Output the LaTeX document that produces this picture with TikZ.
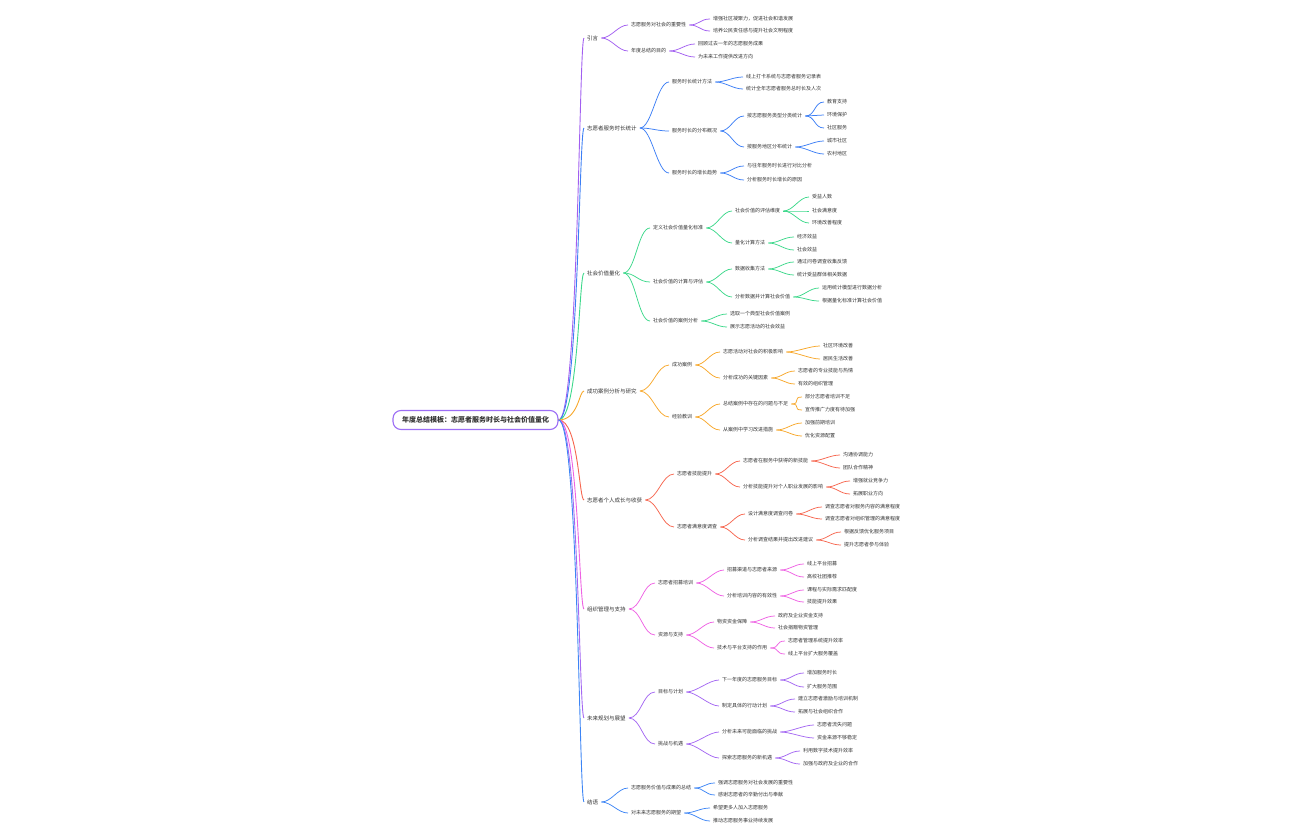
\documentclass[tikz,border=0pt]{standalone}
\usepackage{fontspec}
\setmainfont{Noto Sans CJK SC}
\usetikzlibrary{positioning}
\definecolor{txt}{HTML}{333333}
\definecolor{rootline}{HTML}{9C6EF5}
\definecolor{cintro}{HTML}{A25FF0}
\definecolor{chours}{HTML}{3D7FF5}
\definecolor{cvalue}{HTML}{3DD88B}
\definecolor{ccase}{HTML}{F7A72A}
\definecolor{cgrow}{HTML}{F6664F}
\definecolor{corg}{HTML}{EE62E3}
\definecolor{cplan}{HTML}{A468F2}
\definecolor{cend}{HTML}{3D85F5}
\tikzset{
  rootbox/.style={
    draw=rootline, line width=1.1pt,
    rounded corners=8pt,
    fill=white,
    minimum width=165pt,
    minimum height=19pt,
    text=txt,
    font=\fontsize{7}{8}\selectfont\bfseries},
  topic/.style={anchor=west, inner xsep=3pt, inner ysep=1pt,
    text=txt, font=\fontsize{5.5}{6}\selectfont},
  sub/.style={anchor=west, inner xsep=3pt, inner ysep=1pt,
    text=txt, font=\fontsize{5}{6}\selectfont},
  rootlink/.style={line width=.9pt,
    to path={.. controls +(20,0) and +(-5,0) .. (\tikztotarget)}},
  link/.style={line width=.75pt,
    to path={.. controls +(#1,0) and +(-#1,0) .. (\tikztotarget)}},
  link/.default=10,
}
\begin{document}
\begin{tikzpicture}[x=1pt, y=-1pt]
  \useasboundingbox (0,0) rectangle (1296,840);

  \node[rootbox] (root) at (475.5,420) {年度总结模板：志愿者服务时长与社会价值量化};

  % level 1
  \node[topic] (intro) at (584,38)  {引言};
  \node[topic] (hours) at (584,128) {志愿者服务时长统计};
  \node[topic] (value) at (584,273) {社会价值量化};
  \node[topic] (case)  at (584,391) {成功案例分析与研究};
  \node[topic] (grow)  at (584,500) {志愿者个人成长与收获};
  \node[topic] (org)   at (584,609) {组织管理与支持};
  \node[topic] (plan)  at (584,718) {未来规划与展望};
  \node[topic] (end)   at (584,802) {结语};

  % intro
  \node[sub] (intro-imp)   at (628,25) {志愿服务对社会的重要性};
  \node[sub] (intro-imp-a) at (710,19) {增强社区凝聚力，促进社会和谐发展};
  \node[sub] (intro-imp-b) at (710,31) {培养公民责任感与提升社会文明程度};
  \node[sub] (intro-aim)   at (628,51) {年度总结的目的};
  \node[sub] (intro-aim-a) at (695,44) {回顾过去一年的志愿服务成果};
  \node[sub] (intro-aim-b) at (695,57) {为未来工作提供改进方向};

  % hours
  \node[sub] (hours-meth)   at (669,82)  {服务时长统计方法};
  \node[sub] (hours-meth-a) at (743,77)  {线上打卡系统与志愿者服务记录表};
  \node[sub] (hours-meth-b) at (743,89)  {统计全年志愿者服务总时长及人次};
  \node[sub] (hours-dist)   at (669,131) {服务时长的分布概况};
  \node[sub] (hours-type)   at (744,116) {按志愿服务类型分类统计};
  \node[sub] (hours-type-a) at (824,102) {教育支持};
  \node[sub] (hours-type-b) at (824,115) {环境保护};
  \node[sub] (hours-type-c) at (824,128) {社区服务};
  \node[sub] (hours-area)   at (744,147) {按服务地区分布统计};
  \node[sub] (hours-area-a) at (824,141) {城市社区};
  \node[sub] (hours-area-b) at (824,154) {农村地区};
  \node[sub] (hours-trend)   at (669,173) {服务时长的增长趋势};
  \node[sub] (hours-trend-a) at (744,166) {与往年服务时长进行对比分析};
  \node[sub] (hours-trend-b) at (744,180) {分析服务时长增长的原因};

  % value
  \node[sub] (value-std)    at (650,228) {定义社会价值量化标准};
  \node[sub] (value-dim)    at (732,211) {社会价值的评估维度};
  \node[sub] (value-dim-a)  at (809,197) {受益人数};
  \node[sub] (value-dim-b)  at (809,211) {社会满意度};
  \node[sub] (value-dim-c)  at (809,223) {环境改善程度};
  \node[sub] (value-idx)    at (732,243) {量化计算方法};
  \node[sub] (value-idx-a)  at (794,237) {经济效益};
  \node[sub] (value-idx-b)  at (794,250) {社会效益};
  \node[sub] (value-calc)   at (650,282) {社会价值的计算与评估};
  \node[sub] (value-data)   at (732,269) {数据收集方法};
  \node[sub] (value-data-a) at (794,262) {通过问卷调查收集反馈};
  \node[sub] (value-data-b) at (794,275) {统计受益群体相关数据};
  \node[sub] (value-ana)    at (732,297) {分析数据并计算社会价值};
  \node[sub] (value-ana-a)  at (819,288) {运用统计模型进行数据分析};
  \node[sub] (value-ana-b)  at (819,301) {根据量化标准计算社会价值};
  \node[sub] (value-case)   at (650,321) {社会价值的案例分析};
  \node[sub] (value-case-a) at (727,314) {选取一个典型社会价值案例};
  \node[sub] (value-case-b) at (727,327) {展示志愿活动的社会效益};

  % case
  \node[sub] (case-good)       at (669,365) {成功案例};
  \node[sub] (case-good-eff)   at (720,352) {志愿活动对社会的积极影响};
  \node[sub] (case-good-eff-a) at (820,346) {社区环境改善};
  \node[sub] (case-good-eff-b) at (820,359) {居民生活改善};
  \node[sub] (case-good-key)   at (720,378) {分析成功的关键因素};
  \node[sub] (case-good-key-a) at (795,371) {志愿者的专业技能与热情};
  \node[sub] (case-good-key-b) at (795,384) {有效的组织管理};
  \node[sub] (case-less)        at (669,417) {经验教训};
  \node[sub] (case-less-prob)   at (720,404) {总结案例中存在的问题与不足};
  \node[sub] (case-less-prob-a) at (802,397) {部分志愿者培训不足};
  \node[sub] (case-less-prob-b) at (802,410) {宣传推广力度有待加强};
  \node[sub] (case-less-fix)    at (720,430) {从案例中学习改进措施};
  \node[sub] (case-less-fix-a)  at (802,423) {加强前期培训};
  \node[sub] (case-less-fix-b)  at (802,436) {优化资源配置};

  % grow
  \node[sub] (grow-skill)      at (674,474) {志愿者技能提升};
  \node[sub] (grow-skill-new)  at (740,461) {志愿者在服务中获得的新技能};
  \node[sub] (grow-skill-new-a) at (840,455) {沟通协调能力};
  \node[sub] (grow-skill-new-b) at (840,468) {团队合作精神};
  \node[sub] (grow-skill-job)  at (740,487) {分析技能提升对个人职业发展的影响};
  \node[sub] (grow-skill-job-a) at (850,481) {增强就业竞争力};
  \node[sub] (grow-skill-job-b) at (850,494) {拓展职业方向};
  \node[sub] (grow-survey)     at (674,527) {志愿者满意度调查};
  \node[sub] (grow-form)       at (745,514) {设计满意度调查问卷};
  \node[sub] (grow-form-a)     at (822,507) {调查志愿者对服务内容的满意程度};
  \node[sub] (grow-form-b)     at (822,519) {调查志愿者对组织管理的满意程度};
  \node[sub] (grow-res)        at (745,540) {分析调查结果并提出改进建议};
  \node[sub] (grow-res-a)      at (841,532) {根据反馈优化服务项目};
  \node[sub] (grow-res-b)      at (841,545) {提升志愿者参与体验};

  % org
  \node[sub] (org-recruit)   at (655,583) {志愿者招募培训};
  \node[sub] (org-channel)   at (724,570) {招募渠道与志愿者来源};
  \node[sub] (org-channel-a) at (804,564) {线上平台招募};
  \node[sub] (org-channel-b) at (804,577) {高校社团推荐};
  \node[sub] (org-train)     at (724,596) {分析培训内容的有效性};
  \node[sub] (org-train-a)   at (804,590) {课程与实际需求匹配度};
  \node[sub] (org-train-b)   at (804,602) {技能提升效果};
  \node[sub] (org-res)       at (655,635) {资源与支持};
  \node[sub] (org-fund)      at (714,622) {物资资金保障};
  \node[sub] (org-fund-a)    at (775,616) {政府及企业资金支持};
  \node[sub] (org-fund-b)    at (775,628) {社会捐赠物资管理};
  \node[sub] (org-tech)      at (714,648) {技术与平台支持的作用};
  \node[sub] (org-tech-a)    at (785,641) {志愿者管理系统提升效率};
  \node[sub] (org-tech-b)    at (785,654) {线上平台扩大服务覆盖};

  % plan
  \node[sub] (plan-goal)     at (655,692) {目标与计划};
  \node[sub] (plan-next)     at (719,680) {下一年度的志愿服务目标};
  \node[sub] (plan-next-a)   at (804,673) {增加服务时长};
  \node[sub] (plan-next-b)   at (804,687) {扩大服务范围};
  \node[sub] (plan-act)      at (719,706) {制定具体的行动计划};
  \node[sub] (plan-act-a)    at (795,699) {建立志愿者激励与培训机制};
  \node[sub] (plan-act-b)    at (795,712) {拓展与社会组织合作};
  \node[sub] (plan-risk)     at (655,744) {挑战与机遇};
  \node[sub] (plan-chal)     at (719,732) {分析未来可能面临的挑战};
  \node[sub] (plan-chal-a)   at (814,725) {志愿者流失问题};
  \node[sub] (plan-chal-b)   at (814,738) {资金来源不够稳定};
  \node[sub] (plan-opp)      at (719,758) {探索志愿服务的新机遇};
  \node[sub] (plan-opp-a)    at (800,751) {利用数字技术提升效率};
  \node[sub] (plan-opp-b)    at (800,764) {加强与政府及企业的合作};

  % end
  \node[sub] (end-sum)    at (628,788) {志愿服务价值与成果的总结};
  \node[sub] (end-sum-a)  at (715,783) {强调志愿服务对社会发展的重要性};
  \node[sub] (end-sum-b)  at (715,795) {感谢志愿者的辛勤付出与奉献};
  \node[sub] (end-hope)   at (628,813) {对未来志愿服务的期望};
  \node[sub] (end-hope-a) at (710,808) {希望更多人加入志愿服务};
  \node[sub] (end-hope-b) at (710,821) {推动志愿服务事业持续发展};

  % root links
  \draw[cintro, rootlink] (root.east) to (intro.west);
  \draw[chours, rootlink] (root.east) to (hours.west);
  \draw[cvalue, rootlink] (root.east) to (value.west);
  \draw[ccase,  rootlink] (root.east) to (case.west);
  \draw[cgrow,  rootlink] (root.east) to (grow.west);
  \draw[corg,   rootlink] (root.east) to (org.west);
  \draw[cplan,  rootlink] (root.east) to (plan.west);
  \draw[cend,   rootlink] (root.east) to (end.west);

  % intro links
  \draw[cintro, link] (intro.east) to (intro-imp.west);
  \draw[cintro, link] (intro.east) to (intro-aim.west);
  \draw[cintro, link] (intro-imp.east) to (intro-imp-a.west);
  \draw[cintro, link] (intro-imp.east) to (intro-imp-b.west);
  \draw[cintro, link] (intro-aim.east) to (intro-aim-a.west);
  \draw[cintro, link] (intro-aim.east) to (intro-aim-b.west);

  % hours links
  \draw[chours, link=12] (hours.east) to (hours-meth.west);
  \draw[chours, link=12] (hours.east) to (hours-dist.west);
  \draw[chours, link=12] (hours.east) to (hours-trend.west);
  \draw[chours, link] (hours-meth.east) to (hours-meth-a.west);
  \draw[chours, link] (hours-meth.east) to (hours-meth-b.west);
  \draw[chours, link] (hours-dist.east) to (hours-type.west);
  \draw[chours, link] (hours-dist.east) to (hours-area.west);
  \draw[chours, link] (hours-type.east) to (hours-type-a.west);
  \draw[chours, link] (hours-type.east) to (hours-type-b.west);
  \draw[chours, link] (hours-type.east) to (hours-type-c.west);
  \draw[chours, link] (hours-area.east) to (hours-area-a.west);
  \draw[chours, link] (hours-area.east) to (hours-area-b.west);
  \draw[chours, link] (hours-trend.east) to (hours-trend-a.west);
  \draw[chours, link] (hours-trend.east) to (hours-trend-b.west);

  % value links
  \draw[cvalue, link=12] (value.east) to (value-std.west);
  \draw[cvalue, link=12] (value.east) to (value-calc.west);
  \draw[cvalue, link=12] (value.east) to (value-case.west);
  \draw[cvalue, link] (value-std.east) to (value-dim.west);
  \draw[cvalue, link] (value-std.east) to (value-idx.west);
  \draw[cvalue, link] (value-dim.east) to (value-dim-a.west);
  \draw[cvalue, link] (value-dim.east) to (value-dim-b.west);
  \draw[cvalue, link] (value-dim.east) to (value-dim-c.west);
  \draw[cvalue, link] (value-idx.east) to (value-idx-a.west);
  \draw[cvalue, link] (value-idx.east) to (value-idx-b.west);
  \draw[cvalue, link] (value-calc.east) to (value-data.west);
  \draw[cvalue, link] (value-calc.east) to (value-ana.west);
  \draw[cvalue, link] (value-data.east) to (value-data-a.west);
  \draw[cvalue, link] (value-data.east) to (value-data-b.west);
  \draw[cvalue, link] (value-ana.east) to (value-ana-a.west);
  \draw[cvalue, link] (value-ana.east) to (value-ana-b.west);
  \draw[cvalue, link] (value-case.east) to (value-case-a.west);
  \draw[cvalue, link] (value-case.east) to (value-case-b.west);

  % case links
  \draw[ccase, link=12] (case.east) to (case-good.west);
  \draw[ccase, link=12] (case.east) to (case-less.west);
  \draw[ccase, link] (case-good.east) to (case-good-eff.west);
  \draw[ccase, link] (case-good.east) to (case-good-key.west);
  \draw[ccase, link] (case-good-eff.east) to (case-good-eff-a.west);
  \draw[ccase, link] (case-good-eff.east) to (case-good-eff-b.west);
  \draw[ccase, link] (case-good-key.east) to (case-good-key-a.west);
  \draw[ccase, link] (case-good-key.east) to (case-good-key-b.west);
  \draw[ccase, link] (case-less.east) to (case-less-prob.west);
  \draw[ccase, link] (case-less.east) to (case-less-fix.west);
  \draw[ccase, link] (case-less-prob.east) to (case-less-prob-a.west);
  \draw[ccase, link] (case-less-prob.east) to (case-less-prob-b.west);
  \draw[ccase, link] (case-less-fix.east) to (case-less-fix-a.west);
  \draw[ccase, link] (case-less-fix.east) to (case-less-fix-b.west);

  % grow links
  \draw[cgrow, link=12] (grow.east) to (grow-skill.west);
  \draw[cgrow, link=12] (grow.east) to (grow-survey.west);
  \draw[cgrow, link] (grow-skill.east) to (grow-skill-new.west);
  \draw[cgrow, link] (grow-skill.east) to (grow-skill-job.west);
  \draw[cgrow, link] (grow-skill-new.east) to (grow-skill-new-a.west);
  \draw[cgrow, link] (grow-skill-new.east) to (grow-skill-new-b.west);
  \draw[cgrow, link] (grow-skill-job.east) to (grow-skill-job-a.west);
  \draw[cgrow, link] (grow-skill-job.east) to (grow-skill-job-b.west);
  \draw[cgrow, link] (grow-survey.east) to (grow-form.west);
  \draw[cgrow, link] (grow-survey.east) to (grow-res.west);
  \draw[cgrow, link] (grow-form.east) to (grow-form-a.west);
  \draw[cgrow, link] (grow-form.east) to (grow-form-b.west);
  \draw[cgrow, link] (grow-res.east) to (grow-res-a.west);
  \draw[cgrow, link] (grow-res.east) to (grow-res-b.west);

  % org links
  \draw[corg, link=12] (org.east) to (org-recruit.west);
  \draw[corg, link=12] (org.east) to (org-res.west);
  \draw[corg, link] (org-recruit.east) to (org-channel.west);
  \draw[corg, link] (org-recruit.east) to (org-train.west);
  \draw[corg, link] (org-channel.east) to (org-channel-a.west);
  \draw[corg, link] (org-channel.east) to (org-channel-b.west);
  \draw[corg, link] (org-train.east) to (org-train-a.west);
  \draw[corg, link] (org-train.east) to (org-train-b.west);
  \draw[corg, link] (org-res.east) to (org-fund.west);
  \draw[corg, link] (org-res.east) to (org-tech.west);
  \draw[corg, link] (org-fund.east) to (org-fund-a.west);
  \draw[corg, link] (org-fund.east) to (org-fund-b.west);
  \draw[corg, link] (org-tech.east) to (org-tech-a.west);
  \draw[corg, link] (org-tech.east) to (org-tech-b.west);

  % plan links
  \draw[cplan, link=12] (plan.east) to (plan-goal.west);
  \draw[cplan, link=12] (plan.east) to (plan-risk.west);
  \draw[cplan, link] (plan-goal.east) to (plan-next.west);
  \draw[cplan, link] (plan-goal.east) to (plan-act.west);
  \draw[cplan, link] (plan-next.east) to (plan-next-a.west);
  \draw[cplan, link] (plan-next.east) to (plan-next-b.west);
  \draw[cplan, link] (plan-act.east) to (plan-act-a.west);
  \draw[cplan, link] (plan-act.east) to (plan-act-b.west);
  \draw[cplan, link] (plan-risk.east) to (plan-chal.west);
  \draw[cplan, link] (plan-risk.east) to (plan-opp.west);
  \draw[cplan, link] (plan-chal.east) to (plan-chal-a.west);
  \draw[cplan, link] (plan-chal.east) to (plan-chal-b.west);
  \draw[cplan, link] (plan-opp.east) to (plan-opp-a.west);
  \draw[cplan, link] (plan-opp.east) to (plan-opp-b.west);

  % end links
  \draw[cend, link] (end.east) to (end-sum.west);
  \draw[cend, link] (end.east) to (end-hope.west);
  \draw[cend, link] (end-sum.east) to (end-sum-a.west);
  \draw[cend, link] (end-sum.east) to (end-sum-b.west);
  \draw[cend, link] (end-hope.east) to (end-hope-a.west);
  \draw[cend, link] (end-hope.east) to (end-hope-b.west);
\end{tikzpicture}
\end{document}
